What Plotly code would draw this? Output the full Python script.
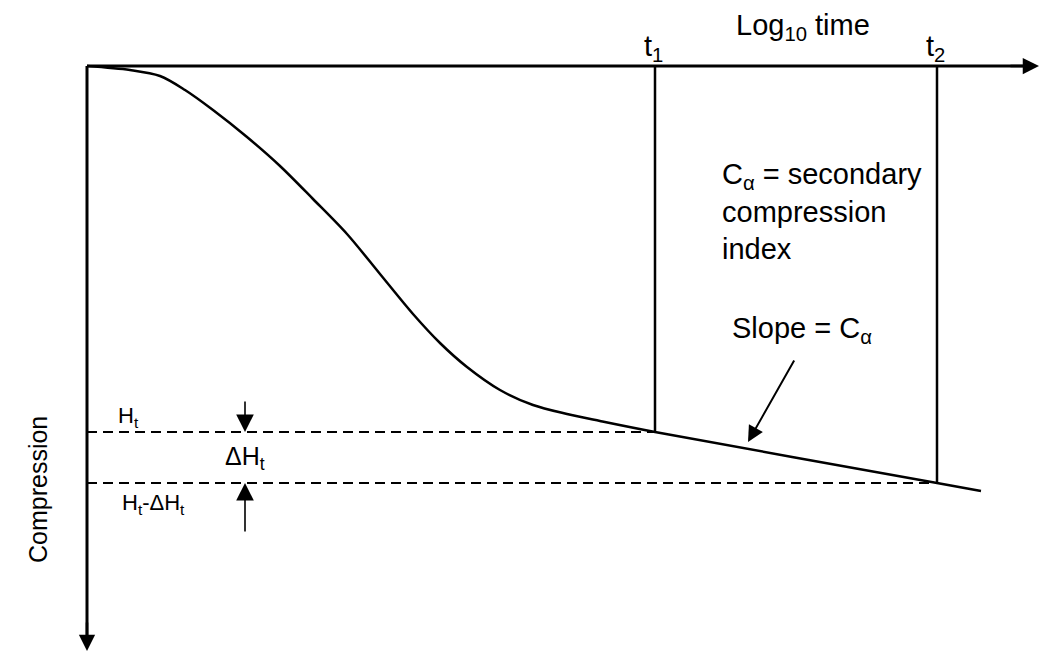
import plotly.graph_objects as go

# Consolidation curve: compression (downwards) against log10 time, in plot units
log_t = [0.00, 0.43, 0.73, 0.98, 1.26, 1.60, 1.93, 2.26, 2.60, 2.93, 3.26,
         3.53, 3.80, 4.13, 4.46, 4.80, 5.13, 5.68, 8.50, 8.94]
compression = [0.00, 0.04, 0.10, 0.24, 0.44, 0.71, 1.00, 1.33, 1.68, 2.08, 2.48,
               2.77, 3.01, 3.24, 3.39, 3.48, 3.55, 3.66, 4.17, 4.25]

# Times t1 and t2 on the secondary compression branch
t_labels = ["t<sub>1</sub>", "t<sub>2</sub>"]
t_index = [17, 18]

FONT = "Liberation Sans, Arial, sans-serif"
X_RANGE = [-0.87, 9.52]
Y_RANGE = [5.85, -0.66]

t_vals = [log_t[i] for i in t_index]
h_vals = [compression[i] for i in t_index]

fig = go.Figure()

# Main curve
fig.add_trace(go.Scatter(
    x=log_t, y=compression, mode="lines",
    line=dict(color="black", width=2.5, shape="spline", smoothing=0.9),
    hoverinfo="skip", showlegend=False))

# Verticals at t1, t2 up to the time axis
for tv, hv in zip(t_vals, h_vals):
    fig.add_trace(go.Scatter(
        x=[tv, tv], y=[0, hv], mode="lines",
        line=dict(color="black", width=2.5), hoverinfo="skip", showlegend=False))
    # dashed level lines back to the compression axis
    fig.add_trace(go.Scatter(
        x=[0, tv], y=[hv, hv], mode="lines",
        line=dict(color="black", width=2, dash="10px,6px"),
        hoverinfo="skip", showlegend=False))

# Axes with arrowheads
x_end = 9.52
y_end = 5.85
fig.add_shape(type="line", x0=0, y0=0, x1=x_end - 0.1, y1=0,
              line=dict(color="black", width=3))
fig.add_shape(type="line", x0=0, y0=0, x1=0, y1=y_end - 0.1,
              line=dict(color="black", width=3))
fig.add_annotation(x=x_end, y=0, ax=x_end - 0.3, ay=0, axref="x", ayref="y",
                   text="", showarrow=True, arrowhead=2, arrowsize=1.3,
                   arrowwidth=2.5, arrowcolor="black")
fig.add_annotation(x=0, y=y_end, ax=0, ay=y_end - 0.3, axref="x", ayref="y",
                   text="", showarrow=True, arrowhead=2, arrowsize=1.3,
                   arrowwidth=2.5, arrowcolor="black")

# Delta H arrows
dh_x = 1.58
fig.add_annotation(x=dh_x, y=h_vals[0], ax=dh_x, ay=h_vals[0] - 0.32,
                   axref="x", ayref="y", text="", showarrow=True,
                   arrowhead=2, arrowsize=2.2, arrowwidth=1.6, arrowcolor="black")
fig.add_annotation(x=dh_x, y=h_vals[1], ax=dh_x, ay=h_vals[1] + 0.50,
                   axref="x", ayref="y", text="", showarrow=True,
                   arrowhead=2, arrowsize=2.2, arrowwidth=1.6, arrowcolor="black")

# Slope arrow pointing at the secondary branch
fig.add_annotation(x=6.61, y=3.76, ax=7.08, ay=2.93, axref="x", ayref="y",
                   text="", showarrow=True, arrowhead=2, arrowsize=1.6,
                   arrowwidth=2, arrowcolor="black")

big = dict(family=FONT, size=29, color="black")
small = dict(family=FONT, size=22, color="black")

def label(x, y, text, font, xanchor="center", yanchor="middle", angle=0, align="center"):
    fig.add_annotation(x=x, y=y, text=text, showarrow=False, font=font,
                       xanchor=xanchor, yanchor=yanchor, textangle=angle,
                       align=align)

label(7.16, -0.39, "Log<sub>10</sub> time", big)
for tv, tl in zip(t_vals, t_labels):
    label(tv - 0.02, -0.18, tl, big)
label(6.33, 1.45, "C<sub>α</sub> = secondary<br>compression<br>index", big,
      xanchor="left", align="left")
label(7.15, 2.64, "Slope = C<sub>α</sub>", big)
label(-0.49, 4.24, "Compression", dict(family=FONT, size=25, color="black"), angle=-90)
label(0.41, 3.51, "H<sub>t</sub>", small)
label(1.58, 3.92, "ΔH<sub>t</sub>", dict(family=FONT, size=25, color="black"))
label(0.66, 4.38, "H<sub>t</sub>-ΔH<sub>t</sub>", small)

fig.update_xaxes(range=X_RANGE, visible=False, fixedrange=True)
fig.update_yaxes(range=Y_RANGE, visible=False, fixedrange=True)
fig.update_layout(
    width=1039, height=651,
    margin=dict(l=0, r=0, t=0, b=0),
    paper_bgcolor="white", plot_bgcolor="white",
    showlegend=False)

fig.write_html("out.html")
